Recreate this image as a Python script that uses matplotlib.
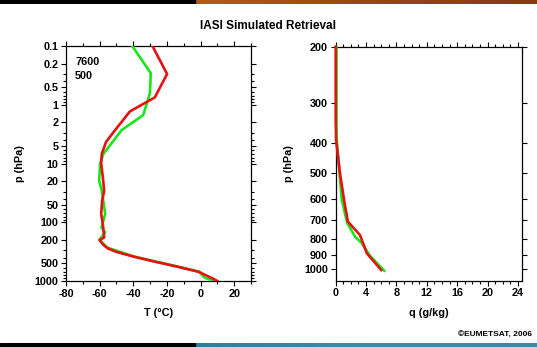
import numpy as np
import matplotlib
matplotlib.use("Agg")
import matplotlib.pyplot as plt
from matplotlib.ticker import FixedLocator, FixedFormatter, MultipleLocator
from matplotlib.colors import LinearSegmentedColormap

plt.rcParams['font.family'] = ['Liberation Sans', 'DejaVu Sans']
plt.rcParams['font.weight'] = 'bold'
plt.rcParams['axes.unicode_minus'] = False

# ---- data ----
title = "IASI Simulated Retrieval"
t_green_p = [0.1, 0.29, 0.64, 1.5, 2.7, 6.8, 10, 19.5, 29, 72, 123, 148, 200, 270, 380, 500, 690, 880, 1000]
t_green_T = [-40.6, -29.6, -30.1, -34.1, -46.9, -57.7, -59.7, -60.3, -58.7, -56.7, -58.9, -56.7, -60.1, -55.5, -40, -22, -1, 2.5, 8]
t_red_p = [0.1, 0.30, 0.75, 1.3, 2.7, 4.3, 6.8, 10, 17, 29, 43, 72, 107, 182, 200, 240, 280, 320, 390, 470, 560, 700, 900, 1000]
t_red_T = [-28.6, -19.9, -27.2, -42, -50.8, -56.2, -58.7, -59.1, -58.1, -57.3, -58.5, -59.1, -58.1, -57.3, -60, -58, -55, -50, -39, -27, -15, -1, 7, 10]

q_green_p = [200, 380, 500, 605, 713, 790, 825, 905, 1010]
q_green_q = [0.1, 0.1, 0.5, 0.8, 1.5, 2.55, 3.4, 4.5, 6.4]
q_red_p = [200, 336, 393, 500, 605, 708, 780, 890, 1005]
q_red_q = [0.0, 0.0, 0.05, 0.57, 1.1, 1.6, 3.2, 4.1, 6.0]

p_ticks_left = [0.1, 0.2, 0.5, 1, 2, 5, 10, 20, 50, 100, 200, 500, 1000]
p_labels_left = ["0.1", "0.2", "0.5", "1", "2", "5", "10", "20", "50", "100", "200", "500", "1000"]
p_ticks_right = [200, 300, 400, 500, 600, 700, 800, 900, 1000]
p_labels_right = ["200", "300", "400", "500", "600", "700", "800", "900", "1000"]
annot = ["7600", "500"]

GREEN = '#19e619'
RED = '#e81010'
FS = 7.8

fig = plt.figure(figsize=(5.37, 3.47), dpi=100)

# top / bottom bars
grad = np.linspace(0, 1, 256)
bar_top = fig.add_axes([0, 1 - 4/347, 1, 4/347])
bar_top.axis('off')
cm_or = LinearSegmentedColormap.from_list('or', ['#b45c18', '#9a4612', '#8a3a0e'])
bar_top.imshow(grad[None, :], aspect='auto', cmap=cm_or, extent=[195, 537, 0, 1])
bar_top.add_patch(plt.Rectangle((0, 0), 195, 1, color='black'))
bar_top.set_xlim(0, 537); bar_top.set_ylim(0, 1)

bar_bot = fig.add_axes([0, 0, 1, 4.5/347])
bar_bot.axis('off')
cm_tl = LinearSegmentedColormap.from_list('tl', ['#2e7f9c', '#3a8cab', '#3a8aa6'])
bar_bot.imshow(grad[None, :], aspect='auto', cmap=cm_tl, extent=[195, 537, 0, 1])
bar_bot.add_patch(plt.Rectangle((0, 0), 195, 1, color='black'))
bar_bot.set_xlim(0, 537); bar_bot.set_ylim(0, 1)

fig.text(268.5/537, 1 - 26/347, title, ha='center', va='center', fontsize=8.5, fontweight='bold')

def style(ax):
    ax.tick_params(which='both', direction='out', top=True, right=True, labelsize=FS, width=0.8, pad=2)
    ax.tick_params(which='major', length=3.5)
    ax.tick_params(which='minor', length=2)
    for s in ax.spines.values():
        s.set_linewidth(0.9)
    for lab in ax.get_xticklabels() + ax.get_yticklabels():
        lab.set_fontweight('bold')

# left axes
ax1 = fig.add_axes([66/537, 1 - 281/347, 185/537, 235/347])
ax1.plot(t_green_T, t_green_p, color=GREEN, lw=1.9, zorder=3)
ax1.plot(t_red_T, t_red_p, color=RED, lw=1.9, zorder=3)
ax1.set_yscale('log')
ax1.set_ylim(1000, 0.1)
ax1.set_xlim(-80, 30)
ax1.yaxis.set_major_locator(FixedLocator(p_ticks_left))
ax1.yaxis.set_major_formatter(FixedFormatter(p_labels_left))
minor = [m * 10.0**e for e in range(-1, 3) for m in (3, 4, 6, 7, 8, 9)]
ax1.yaxis.set_minor_locator(FixedLocator(minor))
ax1.yaxis.set_minor_formatter(FixedFormatter([''] * len(minor)))
ax1.xaxis.set_major_locator(MultipleLocator(20))
ax1.xaxis.set_minor_locator(MultipleLocator(10))
ax1.set_xlabel("T (°C)", fontsize=FS, fontweight='bold', labelpad=7)
ax1.set_ylabel("p (hPa)", fontsize=FS, fontweight='bold', labelpad=7)
style(ax1)
fig.text(75/537, 1 - 61.7/347, annot[0], fontsize=FS, fontweight='bold', va='center')
fig.text(75/537, 1 - 76/347, annot[1], fontsize=FS, fontweight='bold', va='center')

# right axes
ax2 = fig.add_axes([335.7/537, 1 - 280.7/347, 186/537, 234/347])
ax2.plot(q_green_q, q_green_p, color=GREEN, lw=1.9, zorder=3, clip_on=False)
ax2.plot(q_red_q, q_red_p, color=RED, lw=1.9, zorder=3, clip_on=False)
ax2.set_yscale('log')
ax2.set_ylim(1085, 200)
ax2.set_xlim(0, 24.5)
ax2.yaxis.set_major_locator(FixedLocator(p_ticks_right))
ax2.yaxis.set_major_formatter(FixedFormatter(p_labels_right))
ax2.yaxis.set_minor_locator(FixedLocator([]))
ax2.xaxis.set_major_locator(MultipleLocator(4))
ax2.xaxis.set_minor_locator(MultipleLocator(1))
ax2.set_xlabel("q (g/kg)", fontsize=FS, fontweight='bold', labelpad=7)
ax2.set_ylabel("p (hPa)", fontsize=FS, fontweight='bold', labelpad=7)
style(ax2)

fig.text(532/537, 1 - 335.8/347, "©EUMETSAT, 2006", ha='right', va='center', fontsize=6, fontweight='bold')

fig.savefig("out.png", dpi=100)
